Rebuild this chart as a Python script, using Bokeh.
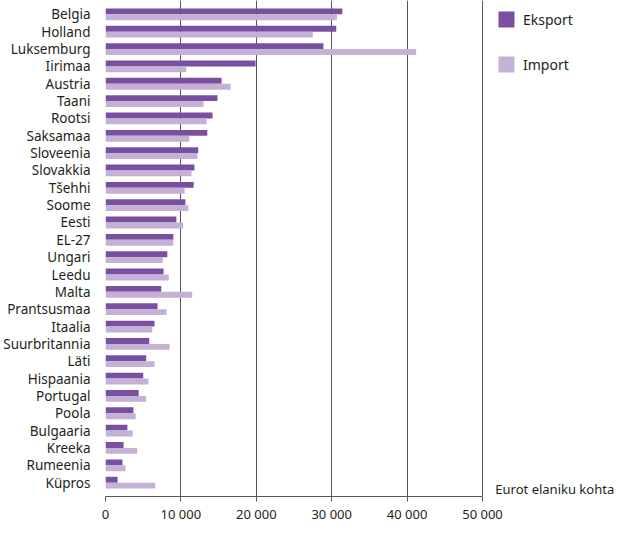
from bokeh.plotting import figure
from bokeh.models import FactorRange, Range1d, FixedTicker, Legend, LegendItem, Label, ColumnDataSource
from bokeh.transform import dodge
from bokeh.embed import file_html
from bokeh.resources import INLINE

countries = ["Belgia", "Holland", "Luksemburg", "Iirimaa", "Austria", "Taani", "Rootsi",
             "Saksamaa", "Sloveenia", "Slovakkia", "Tšehhi", "Soome", "Eesti", "EL-27",
             "Ungari", "Leedu", "Malta", "Prantsusmaa", "Itaalia", "Suurbritannia", "Läti",
             "Hispaania", "Portugal", "Poola", "Bulgaaria", "Kreeka", "Rumeenia", "Küpros"]
eksport = [31400, 30600, 28900, 19900, 15400, 14850, 14200, 13500, 12300, 11800, 11700,
           10600, 9400, 9000, 8200, 7700, 7400, 6900, 6500, 5800, 5400, 5000, 4400, 3700,
           2900, 2400, 2250, 1600]
import_ = [30700, 27500, 41200, 10700, 16600, 13000, 13400, 11100, 12200, 11400, 10500,
           11000, 10300, 9000, 7600, 8400, 11500, 8100, 6200, 8500, 6500, 5700, 5400, 4000,
           3600, 4200, 2650, 6600]
x_ticks = [0, 10000, 20000, 30000, 40000, 50000]

FONT = "Noto Sans"
TXT = "#231f20"
C_EXP = "#7b4fa0"
C_IMP = "#c6b1d6"
GRID = "#555555"

src = ColumnDataSource(dict(country=countries, eksport=eksport, imp=import_))

W, H = 621, 525
LEFT = 105
x_end = (W - LEFT) / 377.0 * 50000

yr = FactorRange(factors=countries[::-1], range_padding=0.3, range_padding_units="absolute")
p = figure(width=W, height=H, output_backend="svg", toolbar_location=None,
           y_range=yr, x_range=Range1d(0, x_end),
           min_border_left=LEFT, min_border_right=0, min_border_top=0, min_border_bottom=20)
p.outline_line_color = None
p.background_fill_color = "white"

r_exp = p.hbar(y=dodge("country", 0.17, range=p.y_range), right="eksport", left=0, height=0.34,
               source=src, fill_color=C_EXP, line_color=None)
r_imp = p.hbar(y=dodge("country", -0.17, range=p.y_range), right="imp", left=0, height=0.34,
               source=src, fill_color=C_IMP, line_color=None)

# x axis
p.xaxis.ticker = FixedTicker(ticks=x_ticks)
p.xaxis.bounds = (x_ticks[0], x_ticks[-1])
p.xaxis.major_label_overrides = {t: f"{t:,}".replace(",", " ") for t in x_ticks}
p.xaxis.axis_line_color = GRID
p.xaxis.major_tick_line_color = GRID
p.xaxis.major_tick_in = 0
p.xaxis.major_tick_out = 5
p.xaxis.minor_tick_line_color = None
p.xaxis.major_label_text_font = FONT
p.xaxis.major_label_text_font_size = "13px"
p.xaxis.major_label_text_color = TXT
p.xaxis.major_label_standoff = 3

# y axis
p.yaxis.axis_line_color = None
p.yaxis.major_tick_line_color = None
p.yaxis.minor_tick_line_color = None
p.yaxis.major_label_text_font = FONT
p.yaxis.major_label_text_font_size = "13.5px"
p.yaxis.major_label_text_color = TXT
p.yaxis.major_label_standoff = 9

# grid
p.ygrid.grid_line_color = None
p.xgrid.ticker = FixedTicker(ticks=x_ticks)
p.xgrid.grid_line_color = GRID
p.xgrid.grid_line_width = 1
p.xgrid.bounds = (0, len(countries))

legend = Legend(items=[LegendItem(label="Eksport", renderers=[r_exp]),
                       LegendItem(label="Import", renderers=[r_imp])],
                location=(391, 422), orientation="vertical",
                glyph_width=20, glyph_height=20, label_height=20, spacing=25, padding=0, margin=0,
                label_standoff=7, label_text_font=FONT, label_text_font_size="14px",
                label_text_color=TXT, border_line_color=None, background_fill_alpha=0)
p.add_layout(legend)

p.add_layout(Label(x=51700, y=0.15, text="Eurot elaniku kohta", text_font=FONT,
                   text_font_size="13px", text_color=TXT, text_baseline="middle"))

open("out.html", "w").write(file_html(p, INLINE))
